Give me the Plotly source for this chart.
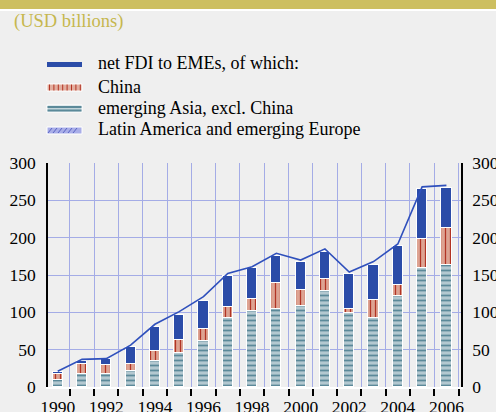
import plotly.graph_objects as go

years = list(range(1990, 2007))
asia = [10, 18, 17, 21.5, 35, 46, 62, 92, 102, 104, 108, 129, 99, 92, 122, 160, 164]
china = [7, 13, 12, 9, 13, 17.5, 15.5, 15, 15.7, 35.6, 22, 16, 6, 25, 14, 38, 48.6]
latam = [3, 4, 8, 22.5, 32, 33.5, 38, 42, 41.3, 35.4, 37, 36, 46, 47, 53, 67, 53.4]
net_fdi = [21, 37, 38, 56, 84, 101, 121, 152, 161, 179, 170, 185, 154, 168, 191.5, 268, 270]
year_labels = [str(y) for y in years[::2]]

legend_labels = ["net FDI to EMEs, of which:", "China", "emerging Asia, excl. China",
                 "Latin America and emerging Europe"]

BG = "#efefef"
GRID = "#a4ace6"
DARK = "#2b4ca8"
FONT = "Liberation Serif"

# plot area in pixels
L, T, W, H = 48, 163, 413, 224
def px(x):
    return (x - L) / W
def py(y):
    return (T + H - y) / H

fig = go.Figure()
fig.add_trace(go.Bar(
    x=years, y=asia, width=0.42, name=legend_labels[2],
    marker=dict(color="#b3c8d0", line=dict(color="white", width=1),
                pattern=dict(shape="-", bgcolor="#b3c8d0", fgcolor="#5b8999",
                             size=5, solidity=0.35, fillmode="replace")),
    showlegend=False))
fig.add_trace(go.Bar(
    x=years, y=china, width=0.42, name=legend_labels[1],
    marker=dict(color="#dda392", line=dict(color="white", width=1),
                pattern=dict(shape="|", bgcolor="#dda392", fgcolor="#b23424",
                             size=5, solidity=0.25, fillmode="replace")),
    showlegend=False))
fig.add_trace(go.Bar(
    x=years, y=latam, width=0.42, name=legend_labels[3],
    marker=dict(color=DARK, line=dict(color="white", width=1)),
    showlegend=False))
fig.add_trace(go.Scatter(
    x=years, y=net_fdi, mode="lines", yaxis="y2", name=legend_labels[0],
    line=dict(color="#2f50bc", width=1.6), showlegend=False))

shapes = []
# top gold band and white strip
shapes.append(dict(type="rect", xref="paper", yref="paper", x0=px(0), x1=px(496),
                   y0=py(0), y1=py(9), fillcolor="#cdbf60", line=dict(width=0), layer="above"))
shapes.append(dict(type="rect", xref="paper", yref="paper", x0=px(0), x1=px(496),
                   y0=py(9), y1=py(11), fillcolor="white", line=dict(width=0), layer="above"))

sx0, sx1 = 47, 82
# legend swatch 1: thick line
shapes.append(dict(type="rect", xref="paper", yref="paper", x0=px(sx0), x1=px(sx1),
                   y0=py(62), y1=py(67), fillcolor=DARK, line=dict(width=0)))
# swatch 2: China
shapes.append(dict(type="rect", xref="paper", yref="paper", x0=px(sx0), x1=px(sx1),
                   y0=py(84), y1=py(91), fillcolor="#e2ae9f", line=dict(color="white", width=1)))
xx = sx0 + 2.5
while xx < sx1:
    shapes.append(dict(type="line", xref="paper", yref="paper", x0=px(xx), x1=px(xx),
                       y0=py(84.5), y1=py(90.5), line=dict(color="#b23424", width=1)))
    xx += 4.4
# swatch 3: Asia
shapes.append(dict(type="rect", xref="paper", yref="paper", x0=px(sx0), x1=px(sx1),
                   y0=py(105), y1=py(112), fillcolor="#c2d4da", line=dict(color="white", width=1)))
for yy in (107, 110.5):
    shapes.append(dict(type="line", xref="paper", yref="paper", x0=px(sx0 + 0.5), x1=px(sx1 - 0.5),
                       y0=py(yy), y1=py(yy), line=dict(color="#5b8999", width=2)))
# swatch 4: Latin America
shapes.append(dict(type="rect", xref="paper", yref="paper", x0=px(sx0), x1=px(sx1),
                   y0=py(127), y1=py(134), fillcolor="#a9aee8", line=dict(color="white", width=1)))
xx = sx0 + 1
while xx < sx1 - 4:
    shapes.append(dict(type="line", xref="paper", yref="paper", x0=px(xx), x1=px(xx + 4),
                       y0=py(133), y1=py(128), line=dict(color="#5a64c4", width=1)))
    xx += 5

annotations = [dict(text="(USD billions)", xref="paper", yref="paper", x=px(12), y=py(22),
                    xanchor="left", yanchor="middle", showarrow=False,
                    font=dict(family=FONT, size=18.5, color="#c6b74e"))]
for lab, yc in zip(legend_labels, (63, 87, 108, 129)):
    annotations.append(dict(text=lab, xref="paper", yref="paper", x=px(96), y=py(yc),
                            xanchor="left", yanchor="middle", showarrow=False,
                            font=dict(family=FONT, size=18, color="black")))

fig.update_layout(
    width=496, height=412,
    margin=dict(l=L, r=496 - L - W, t=T, b=412 - T - H, autoexpand=False),
    paper_bgcolor=BG, plot_bgcolor=BG,
    barmode="stack", bargap=0,
    showlegend=False,
    font=dict(family=FONT, size=17.5, color="black"),
    shapes=shapes, annotations=annotations,
    xaxis=dict(range=[1989.6, 2006.6], tickmode="array", tickvals=years[::2],
               ticktext=year_labels, showgrid=False, ticks="", zeroline=False,
               showline=True, linecolor="white", linewidth=2, automargin=False,
               ticklabelstandoff=3,
               minor=dict(tick0=1989.5, dtick=1, showgrid=True, gridcolor=GRID, gridwidth=1,
                          ticks="outside", ticklen=7, tickcolor="black", tickwidth=1.5)),
    yaxis=dict(range=[0, 300], dtick=50, showgrid=True, gridcolor=GRID, gridwidth=1,
               zeroline=False, showline=True, linecolor="black", linewidth=1.5,
               ticks="", ticklabelstandoff=7, automargin=False),
    yaxis2=dict(range=[0, 300], dtick=50, overlaying="y", side="right", anchor="x",
                showgrid=False, zeroline=False, showline=True, linecolor="black",
                linewidth=1.5, ticks="", ticklabelstandoff=6, automargin=False),
)

fig.write_html("out.html", config={"displayModeBar": False},
               post_script="document.body.style.margin='0';document.body.style.background='%s';" % BG)
